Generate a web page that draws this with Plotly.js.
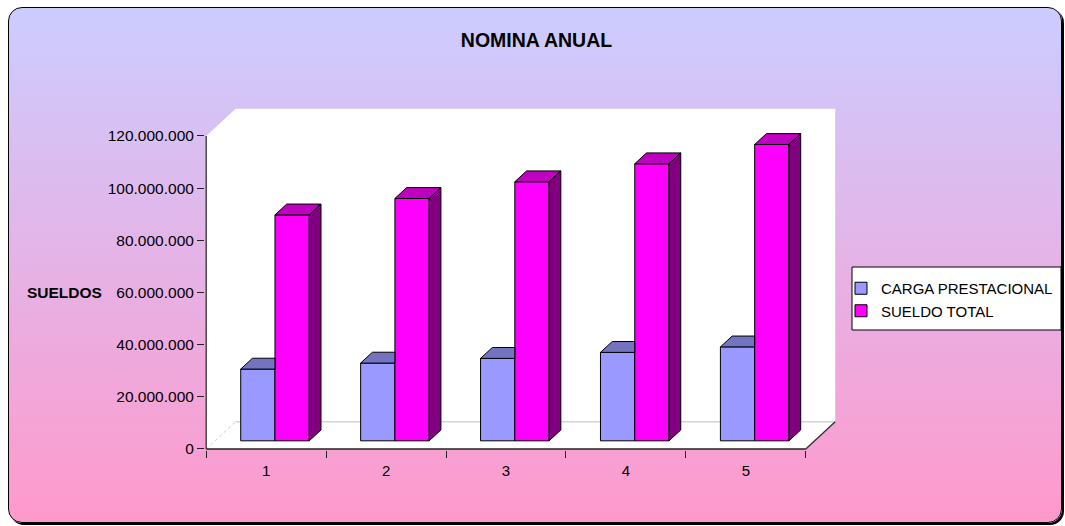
<!DOCTYPE html>
<html>
<head>
<meta charset="utf-8">
<script src="https://cdn.plot.ly/plotly-3.0.1.min.js"></script>
<style>
  html, body { margin: 0; padding: 0; background: #ffffff; }
  #frame {
    position: absolute; left: 8px; top: 7px; width: 1052px; height: 514px;
    border: 1px solid #000; border-radius: 14px;
    background: linear-gradient(to bottom, #CCCCFF 0%, #FF99CC 100%);
    box-shadow: 2px 2px 0 #000;
  }
  #chart { position: absolute; left: 0; top: 0; width: 1065px; height: 526px; }
</style>
</head>
<body>
<div id="frame"></div>
<div id="chart"></div>
<script>
// ---- data ----
const categories = ['1', '2', '3', '4', '5'];
const seriesNames = ['CARGA PRESTACIONAL', 'SUELDO TOTAL'];
const cargaPrestacional = [27500000, 29800000, 31600000, 33900000, 36000000];
const sueldoTotal = [86600000, 92900000, 99300000, 106200000, 113600000];
const yTickVals = [0, 20000000, 40000000, 60000000, 80000000, 100000000, 120000000];
const yTickText = ['0', '20.000.000', '40.000.000', '60.000.000', '80.000.000', '100.000.000', '120.000.000'];
const chartTitle = 'NOMINA ANUAL';
const yTitle = 'SUELDOS';

// ---- 3D geometry (in axis units) ----
const DX = 0.245;          // depth offset along x
const DY = 10400000;       // depth offset along y
const F0 = 0.3, F1 = 0.7;  // bar front / back depth fraction
const BAR_W = 1 / 3.5;     // gap width 150%
const FONT = 'Liberation Sans, Arial, sans-serif';

const xc = categories.map((c, i) => i + 1);
const base = F0 * DY;
const dDX = (F1 - F0) * DX, dDY = (F1 - F0) * DY;
const cargaX = xc.map(x => x - BAR_W / 2 + F0 * DX);
const sueldoX = xc.map(x => x + BAR_W / 2 + F0 * DX);

const colors = {
  cargaFront: '#9999FF', cargaTop: '#7373C0',
  sueldoFront: '#FF00FF', sueldoTop: '#C000C0', sueldoSide: '#800080'
};

const traces = [
  { type: 'bar', name: seriesNames[0], x: cargaX, y: cargaPrestacional, base: base, width: BAR_W,
    marker: { color: colors.cargaFront, line: { color: '#000', width: 1 } }, hoverinfo: 'skip' },
  { type: 'bar', name: seriesNames[1], x: sueldoX, y: sueldoTotal, base: base, width: BAR_W,
    marker: { color: colors.sueldoFront, line: { color: '#000', width: 1 } }, hoverinfo: 'skip' }
];

function path(pts) {
  return 'M ' + pts.map(p => p[0] + ',' + p[1]).join(' L ') + ' Z';
}

const shapes = [];
const nCat = categories.length;
const x0 = 0.5, x1 = nCat + 0.5;
const yTop = yTickVals[yTickVals.length - 1];
// walls + floor (white)
shapes.push({ type: 'path', xref: 'x', yref: 'y', layer: 'below',
  path: path([[x0, 0], [x0, yTop], [x0 + DX, yTop + DY], [x1 + DX, yTop + DY], [x1 + DX, DY], [x1, 0]]),
  fillcolor: '#FFFFFF', line: { width: 0 } });
// floor back edge and left floor edge
shapes.push({ type: 'line', xref: 'x', yref: 'y', layer: 'below', x0: x0 + DX, y0: DY, x1: x1 + DX, y1: DY,
  line: { color: '#D4D4D4', width: 1.5 } });
shapes.push({ type: 'line', xref: 'x', yref: 'y', layer: 'below', x0: x0, y0: 0, x1: x0 + DX, y1: DY,
  line: { color: '#CFCFCF', width: 1, dash: 'dot' } });
// axis lines
shapes.push({ type: 'line', xref: 'x', yref: 'y', layer: 'above', x0: x0, y0: 0, x1: x0, y1: yTop,
  line: { color: '#222', width: 1.2 } });
shapes.push({ type: 'line', xref: 'x', yref: 'y', layer: 'above', x0: x0, y0: 0, x1: x1, y1: 0,
  line: { color: '#222', width: 1.6 } });
shapes.push({ type: 'line', xref: 'x', yref: 'y', layer: 'above', x0: x1, y0: 0, x1: x1 + DX, y1: DY,
  line: { color: '#333', width: 1.4 } });

// bar tops and sides
for (let i = 0; i < nCat; i++) {
  const xl = cargaX[i] - BAR_W / 2, xm = cargaX[i] + BAR_W / 2, xr = sueldoX[i] + BAR_W / 2;
  const tc = base + cargaPrestacional[i];
  const ts = base + sueldoTotal[i];
  shapes.push({ type: 'path', xref: 'x', yref: 'y', layer: 'above',
    path: path([[xl, tc], [xm, tc], [xm, tc + dDY], [xl + dDX, tc + dDY]]),
    fillcolor: colors.cargaTop, line: { color: '#000', width: 1 } });
  shapes.push({ type: 'path', xref: 'x', yref: 'y', layer: 'above',
    path: path([[xm, ts], [xr, ts], [xr + dDX, ts + dDY], [xm + dDX, ts + dDY]]),
    fillcolor: colors.sueldoTop, line: { color: '#000', width: 1 } });
  shapes.push({ type: 'path', xref: 'x', yref: 'y', layer: 'above',
    path: path([[xr, base], [xr, ts], [xr + dDX, ts + dDY], [xr + dDX, base + dDY]]),
    fillcolor: colors.sueldoSide, line: { color: '#000', width: 1 } });
}

// legend box
shapes.push({ type: 'rect', xref: 'paper', yref: 'paper', layer: 'below',
  x0: (852 - 205) / 632, x1: (1061 - 205) / 632, y0: 1 - (330 - 108) / 342, y1: 1 - (267 - 108) / 342,
  fillcolor: '#FFFFFF', line: { color: '#000', width: 1 } });

const layout = {
  width: 1065, height: 526,
  margin: { l: 205, r: 228, t: 108, b: 76, autoexpand: false },
  paper_bgcolor: 'rgba(0,0,0,0)', plot_bgcolor: 'rgba(0,0,0,0)',
  barmode: 'overlay',
  font: { family: FONT, size: 15, color: '#000' },
  title: { text: chartTitle, x: 536.5 / 1065, xanchor: 'center', y: 1 - 40 / 526, yanchor: 'middle',
    font: { family: FONT, size: 19.5, color: '#000', weight: 'bold' } },
  xaxis: {
    range: [0.49, 5.76], showgrid: false, zeroline: false, showline: false,
    tickmode: 'array', tickvals: xc, ticktext: categories,
    ticks: 'outside', ticklen: 7, tickcolor: 'rgba(0,0,0,0)',
    tickfont: { family: FONT, size: 15, color: '#000' },
    minor: { tickmode: 'array', tickvals: [0.5, 1.5, 2.5, 3.5, 4.5, 5.5], ticks: 'outside', ticklen: 7, tickcolor: '#222', tickwidth: 1 }
  },
  yaxis: {
    range: [-400000, 130700000], showgrid: false, zeroline: false, showline: false,
    tickmode: 'array', tickvals: yTickVals, ticktext: yTickText,
    ticks: 'outside', ticklen: 7, tickcolor: '#222',
    tickfont: { family: FONT, size: 15.5, color: '#000' }
  },
  showlegend: true,
  legend: {
    x: (841 - 205) / 632, xanchor: 'left', y: 1 - (272 - 108) / 342, yanchor: 'top',
    bgcolor: 'rgba(0,0,0,0)', borderwidth: 0,
    font: { family: FONT, size: 15, color: '#000' }, traceorder: 'normal'
  },
  shapes: shapes,
  annotations: [
    { text: yTitle, xref: 'paper', yref: 'y', x: (25 - 205) / 632, y: 60000000, xanchor: 'left', yanchor: 'middle',
      showarrow: false, font: { family: FONT, size: 15.5, color: '#000', weight: 'bold' } }
  ]
};

Plotly.newPlot('chart', traces, layout, { staticPlot: true, displayModeBar: false });
</script>
</body>
</html>
